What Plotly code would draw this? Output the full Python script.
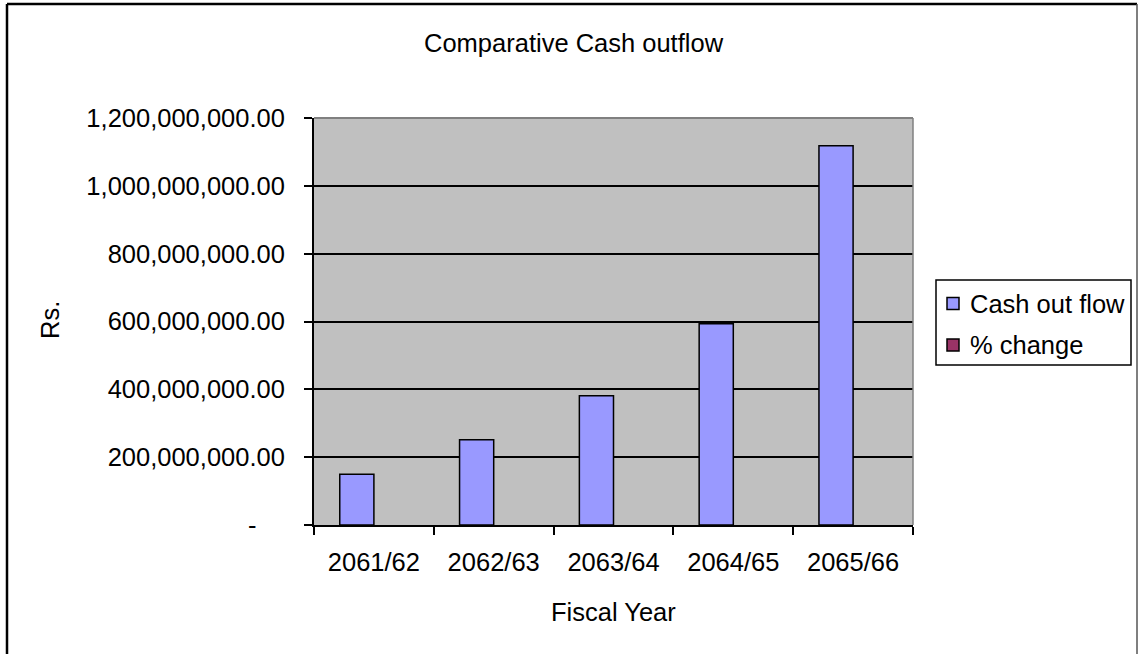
import plotly.graph_objects as go

# ---- data ----
fiscal_years = ["2061/62", "2062/63", "2063/64", "2064/65", "2065/66"]
cash_out_flow = [150_000_000, 251_000_000, 381_000_000, 593_000_000, 1_118_000_000]
pct_change = [None, 67.0, 52.0, 56.0, 88.0]
series_names = ["Cash out flow", "% change"]
series_colors = ["#9999FF", "#993366"]
y_tick_vals = [0, 200_000_000, 400_000_000, 600_000_000, 800_000_000, 1_000_000_000, 1_200_000_000]
y_tick_text = ["-\u00a0\u00a0\u00a0\u00a0", "200,000,000.00", "400,000,000.00", "600,000,000.00",
               "800,000,000.00", "1,000,000,000.00", "1,200,000,000.00"]

W, H = 1138, 654
L, R, T, B = 314, 913, 118, 525  # plot-area pixel edges
PW, PH = R - L, B - T


def px(x):
    return (x - L) / PW


def py(y):
    return (B - y) / PH


FONT = "Liberation Sans, Arial, sans-serif"
FS = 25.5

fig = go.Figure()
fig.add_trace(go.Bar(
    x=fiscal_years, y=cash_out_flow, name=series_names[0],
    marker=dict(color=series_colors[0], line=dict(color="black", width=1.5)),
))
fig.add_trace(go.Bar(
    x=fiscal_years, y=pct_change, name=series_names[1],
    marker=dict(color=series_colors[1], line=dict(color="black", width=0)),
))

shapes = [
    # plot-area top and right borders (gray)
    dict(type="line", xref="paper", yref="paper", x0=0, x1=1, y0=1, y1=1,
         line=dict(color="#808080", width=2), layer="above"),
    dict(type="line", xref="paper", yref="paper", x0=1, x1=1, y0=0, y1=1,
         line=dict(color="#808080", width=1.5), layer="above"),
    # outer chart border
    dict(type="line", xref="paper", yref="paper", x0=px(7), x1=px(7), y0=py(4), y1=py(670),
         line=dict(color="black", width=2.5), layer="above"),
    dict(type="line", xref="paper", yref="paper", x0=px(7), x1=px(1137), y0=py(4), y1=py(4),
         line=dict(color="black", width=2.5), layer="above"),
    dict(type="line", xref="paper", yref="paper", x0=px(1137), x1=px(1137), y0=py(4), y1=py(670),
         line=dict(color="#555555", width=1.5), layer="above"),
    # legend box
    dict(type="rect", xref="paper", yref="paper", x0=px(936), x1=px(1131), y0=py(280), y1=py(365),
         line=dict(color="black", width=1.5), fillcolor="white", layer="above"),
]
annotations = [
    dict(text="Comparative Cash outflow", xref="paper", yref="paper",
         x=px(574), y=py(43), xanchor="center", yanchor="middle",
         showarrow=False, font=dict(family=FONT, size=FS, color="black")),
    dict(text="Rs.", xref="paper", yref="paper",
         x=px(50), y=py(320), xanchor="center", yanchor="middle", textangle=-90,
         showarrow=False, font=dict(family=FONT, size=FS, color="black")),
    dict(text="Fiscal Year", xref="paper", yref="paper",
         x=px(613), y=py(612), xanchor="center", yanchor="middle",
         showarrow=False, font=dict(family=FONT, size=FS, color="black")),
]
legend_rows_y = [303.5, 345]
for name, color, yc in zip(series_names, series_colors, legend_rows_y):
    shapes.append(dict(type="rect", xref="paper", yref="paper",
                       x0=px(947), x1=px(959), y0=py(yc - 6), y1=py(yc + 6),
                       line=dict(color="black", width=1.5), fillcolor=color, layer="above"))
    annotations.append(dict(text=name, xref="paper", yref="paper",
                            x=px(968), y=py(yc), xanchor="left", yanchor="middle",
                            showarrow=False, font=dict(family=FONT, size=FS, color="black")))

fig.update_layout(
    width=W, height=H,
    margin=dict(l=L, r=W - R, t=T, b=H - B, pad=0, autoexpand=False),
    paper_bgcolor="white", plot_bgcolor="#C0C0C0",
    barmode="group", bargap=0.43, bargroupgap=0,
    font=dict(family=FONT, size=FS, color="black"),
    showlegend=False,
    xaxis=dict(
        type="category", tickson="boundaries", ticks="outside", ticklen=8,
        tickwidth=1.5, tickcolor="black", ticklabelstandoff=14,
        showline=True, linecolor="black", linewidth=1.5,
        showgrid=False, zeroline=False,
        tickfont=dict(family=FONT, size=FS, color="black"),
        fixedrange=True,
    ),
    yaxis=dict(
        range=[0, 1_200_000_000], tickmode="array",
        tickvals=y_tick_vals, ticktext=y_tick_text,
        ticks="outside", ticklen=8, tickwidth=1.5, tickcolor="black",
        ticklabelstandoff=14,
        showline=True, linecolor="black", linewidth=2,
        showgrid=True, gridcolor="black", gridwidth=1.5,
        zeroline=False,
        tickfont=dict(family=FONT, size=FS, color="black"),
        fixedrange=True,
    ),
    shapes=shapes,
    annotations=annotations,
)

fig.write_html("out.html", config={"displayModeBar": False})
